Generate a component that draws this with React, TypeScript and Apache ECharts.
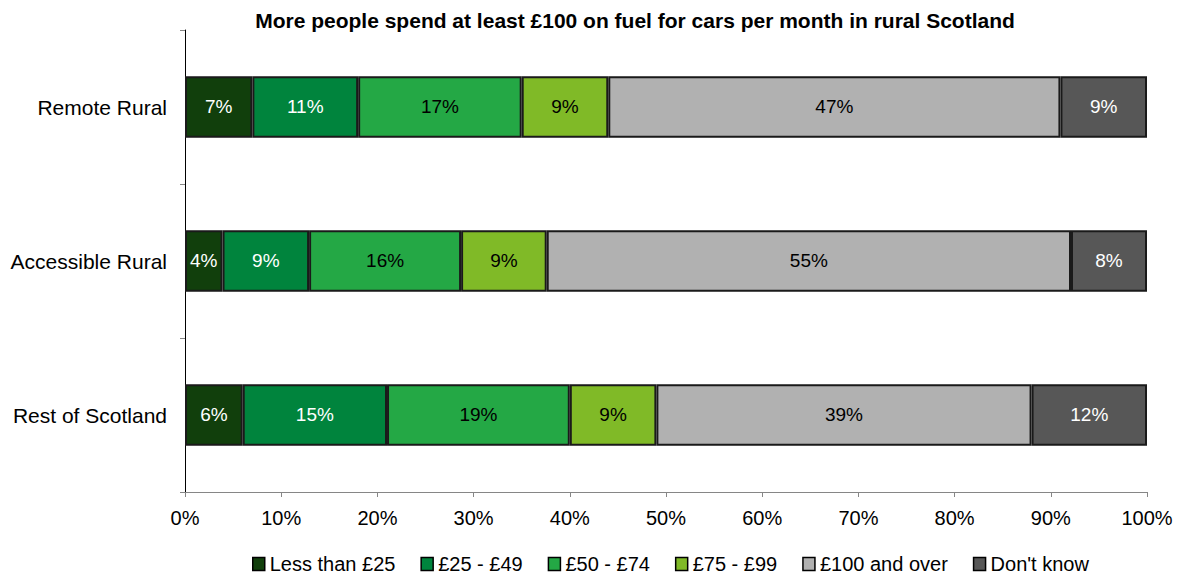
import React, { useEffect, useRef } from "react";
import * as echarts from "echarts";

const categories = ["Remote Rural", "Accessible Rural", "Rest of Scotland"];
const seriesNames = ["Less than £25", "£25 - £49", "£50 - £74", "£75 - £99", "£100 and over", "Don't know"];
const lessThan25 = [7, 3.9, 6];
const from25to49 = [11, 9, 15];
const from50to74 = [17, 15.8, 19];
const from75to99 = [9, 8.9, 9];
const over100 = [47, 54.5, 39];
const dontKnow = [9, 7.9, 12];
const xTicks = [0, 10, 20, 30, 40, 50, 60, 70, 80, 90, 100];

const seriesValues = [lessThan25, from25to49, from50to74, from75to99, over100, dontKnow];
const colors = ["#113F0C", "#00843D", "#24A845", "#80BA27", "#B1B1B1", "#575757"];
const labelColors = ["#ffffff", "#ffffff", "#000000", "#000000", "#000000", "#ffffff"];
const FONT = "Liberation Sans, Arial, sans-serif";

export default function App() {
  const ref = useRef<HTMLDivElement>(null);
  useEffect(() => {
    const chart = echarts.init(ref.current!, null, { renderer: "svg" });
    chart.setOption({
      animation: false,
      textStyle: { fontFamily: FONT },
      title: {
        text: "More people spend at least £100 on fuel for cars per month in rural Scotland",
        left: 630,
        textAlign: "center",
        top: 5,
        textStyle: { fontSize: 21, fontWeight: "bold", color: "#000", fontFamily: FONT },
      },
      legend: {
        top: 549,
        left: 247,
        itemWidth: 12,
        itemHeight: 13,
        itemGap: 25,
        icon: "rect",
        textStyle: { fontSize: 20, color: "#000", fontFamily: FONT },
        data: seriesNames.map((n, i) => ({
          name: n,
          itemStyle: { color: colors[i], borderColor: "#000", borderWidth: 1.5 },
        })),
      },
      grid: { left: 185, right: 33, top: 30, bottom: 86, containLabel: false },
      xAxis: {
        type: "value",
        min: 0,
        max: 100,
        interval: 10,
        axisLine: { show: true, lineStyle: { color: "#868686", width: 1 } },
        axisTick: { show: true, length: 5, lineStyle: { color: "#868686" } },
        splitLine: { show: false },
        axisLabel: {
          fontSize: 20,
          color: "#000",
          margin: 16,
          fontFamily: FONT,
          formatter: (v: number) => (xTicks.includes(v) ? v + "%" : ""),
        },
      },
      yAxis: {
        type: "category",
        data: categories,
        inverse: true,
        axisLine: { show: true, lineStyle: { color: "#000", width: 1 } },
        axisTick: { show: true, length: 5, lineStyle: { color: "#868686" } },
        axisLabel: { fontSize: 21, color: "#000", margin: 18, fontFamily: FONT },
      },
      series: seriesNames.map((name, i) => ({
        name,
        type: "bar",
        stack: "total",
        barWidth: "40%",
        data: seriesValues[i],
        itemStyle: { color: colors[i], borderColor: "#1a1a1a", borderWidth: 2 },
        label: {
          show: true,
          position: "inside",
          color: labelColors[i],
          fontSize: 19,
          fontFamily: FONT,
          offset: [0, -1],
          formatter: (p: any) => Math.round(p.value) + "%",
        },
        emphasis: { disabled: true },
      })),
    });
    return () => chart.dispose();
  }, []);
  return <div ref={ref} style={{ width: 1180, height: 578, position: "absolute", left: 0, top: 0 }} />;
}
